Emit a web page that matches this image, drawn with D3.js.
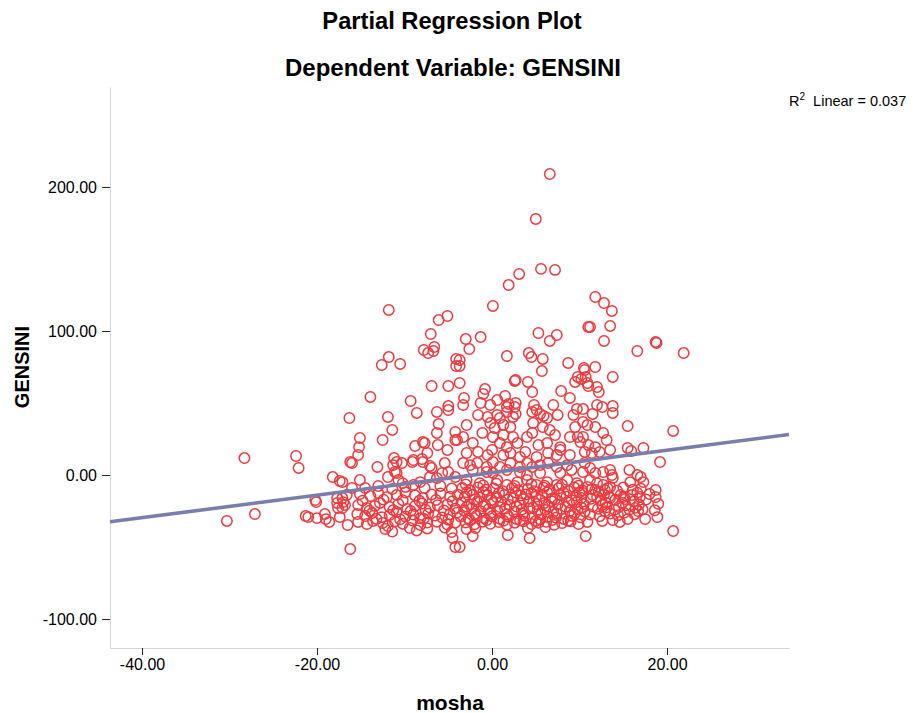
<!DOCTYPE html>
<html>
<head>
<meta charset="utf-8">
<script src="https://cdn.jsdelivr.net/npm/d3@7"></script>
<style>
  body { margin: 0; background: #ffffff; }
  svg { display: block; font-family: "Liberation Sans", Arial, sans-serif; }
</style>
</head>
<body>
<svg id="chart" width="920" height="713"></svg>
<script>
// Axis ticks
const xTicks = [-40, -20, 0, 20];
const yTicks = [-100, 0, 100, 200];

// Fitted line: [intercept, slope] and its R squared
const fitCoefficients = [1.6, 0.78];
const rSquared = 0.037;

// Residual pairs [mosha, GENSINI] — points above the main band
const upperPoints = [
  [6.6,209.0],[5.0,177.8],[5.6,143.1],[7.2,142.4],[3.1,139.6],[1.9,131.9],[11.8,123.6],[12.8,119.4],
  [13.7,113.9],[0.1,117.4],[-11.8,114.6],[11.0,102.8],[11.2,102.8],[13.5,103.5],[12.8,93.1],[5.3,98.6],
  [7.4,97.2],[6.6,93.1],[-3.0,94.4],[-1.3,95.8],[-2.6,87.5],[16.6,86.1],[18.7,92.4],[18.8,91.7],
  [21.9,84.7],[1.7,82.6],[4.2,84.7],[4.5,81.9],[5.8,80.6],[8.7,77.8],[5.7,72.2],[10.5,74.3],
  [10.6,72.9],[11.8,75.0],[-3.7,79.9],[-3.7,75.7],[13.8,68.1],[2.6,65.3],[2.7,66.0],[4.1,64.6],
  [9.8,68.1],[10.2,66.7],[10.7,68.1],[9.5,64.6],[10.9,63.9],[11.0,61.8],[-3.7,63.9],[12.0,61.1],
  [12.2,57.6],[7.9,58.3],[4.6,57.6],[-0.8,59.7],[-1.0,56.3],[8.9,53.5],[-3.2,53.5],[-3.3,48.6],
  [1.5,54.9],[0.6,52.1],[-1.3,50.0],[-0.2,48.6],[1.9,49.3],[2.7,50.0],[1.7,47.2],[2.6,47.2],
  [4.8,48.6],[7.0,48.6],[12.0,48.6],[12.6,47.2],[13.8,47.9],[9.7,45.8],[10.4,45.8],[5.1,45.1],
  [5.5,42.4],[5.9,41.0],[6.3,39.6],[7.5,41.7],[11.5,42.4],[13.8,43.1],[-1.6,41.7],[-0.5,40.3],
  [0.6,41.7],[0.9,39.6],[2.7,42.4],
  [-5.1,110.4],[-6.1,107.6],[-7.0,97.9],[-7.8,86.8],[-7.3,84.7],[-6.6,88.9],[-6.7,86.1],[-4.1,80.6],
  [-4.1,75.7],[-11.8,81.9],[-12.6,76.4],[-10.5,77.1],[-6.9,61.8],[-5.0,61.8],[-13.9,54.2],[-9.3,51.4],
  [-5.0,47.9],[-8.6,43.1],[-6.3,43.8],[-16.3,39.6],[-11.9,40.3],[-5.0,45.1]
];

// Points around the fitted line
const middlePoints = [
  [-6.1,35.4],[-11.4,31.3],[-15.1,25.7],[-12.5,24.3],[-15.2,19.4],[-15.3,13.9],[-16.2,9.0],[-16.0,8.3],
  [-8.8,20.1],[-7.9,22.9],[-7.7,22.2],[-6.3,29.2],[-6.2,20.8],[-7.4,15.3],[-5.1,17.4],[-4.2,29.9],
  [-4.2,24.3],[-4.0,24.3],[-11.2,11.8],[-10.9,9.0],[-10.3,8.3],[-11.3,6.9],[-11.1,2.1],[-10.9,1.4],
  [-9.1,9.0],[-9.0,10.4],[-8.0,11.1],[-7.9,9.0],[-13.1,5.6],[-7.1,6.3],[-6.9,4.9],[-5.4,8.3],
  [-5.7,1.4],[-5.0,2.1],[-6.3,-2.1],[-7.1,-1.4],[-17.1,-4.9],[-15.1,-3.5],[-11.9,-1.4],[-10.7,-3.5],
  [-10.2,-5.6],[-8.2,-4.9],[-9.0,-6.9],[-4.2,-1.4],
  [-28.3,11.8],[-22.4,13.2],[-22.1,4.9],[-18.2,-1.4],[-17.4,-4.2],
  [1.7,43.8],[2.4,40.3],[4.6,43.8],[9.3,41.7],
  [-2.9,34.7],[-0.2,36.1],[0.3,32.6],[1.3,34.7],[2.1,33.3],[4.7,36.1],[5.8,33.3],[6.6,31.3],[9.5,33.3],
  [-3.3,26.4],[-1.1,29.2],[0.1,26.4],[1.3,27.8],[2.4,26.4],[4.0,26.4],[4.6,29.2],[7.2,27.8],[8.9,26.4],[9.8,26.4],
  [-2.2,22.2],[0.9,22.2],[1.7,19.4],[2.9,22.2],[5.3,20.8],[6.3,22.2],[7.8,19.4],
  [-2.9,15.3],[-1.6,16.0],[-0.5,13.9],[0.0,17.4],[1.3,13.9],[2.1,15.3],[3.2,12.5],[3.8,16.0],[5.1,12.5],
  [6.4,15.3],[7.4,13.9],[7.8,17.4],[8.9,13.9],
  [-3.3,8.3],[-2.5,6.9],[-1.7,8.3],[-0.6,5.6],[0.1,9.0],[0.9,5.6],[2.1,8.3],[3.2,5.6],[4.0,8.3],[4.6,5.6],
  [5.5,6.9],[6.4,8.3],[7.4,5.6],[8.6,6.9],
  [-2.2,3.5],[-0.6,2.1],[0.1,1.4],[1.7,3.5],[3.2,2.1],[4.0,0.0],[5.5,1.4],[7.8,1.4],[9.1,3.5],
  [-2.9,-3.5],[-1.4,-5.6],[0.6,-3.5],[1.7,-6.9],[2.9,-4.9],[4.0,-3.5],[5.1,-6.9],[6.3,-4.9],[7.4,-6.9],
  [8.6,-3.5],[9.7,-5.6],
  [10.9,34.7],[11.8,33.3],[10.4,36.8],[15.5,34.0],[20.7,30.6],[12.7,29.2],[13.1,24.3],[10.4,26.4],
  [10.1,22.9],[11.0,20.8],[11.8,19.4],[12.3,16.0],[13.5,17.4],[10.6,16.0],[11.4,15.3],[15.5,18.8],
  [15.9,16.7],[17.3,18.8],[19.2,9.0],[10.6,8.3],[11.2,4.9],[10.4,2.1],[11.8,1.4],[12.7,2.1],[13.5,3.5],
  [13.7,0.0],[15.7,3.5],[16.6,0.0],[17.0,-1.4],[15.8,-4.9],[17.3,-4.9],[11.2,-3.5],[12.0,-5.6],
  [12.7,-6.9],[13.8,-2.1],
  [-3.0,-6.5],[-1.0,-7.2],[0.5,-6.0],[2.6,-7.6],[4.5,-6.3],[6.0,-7.4],[8.0,-6.8],[9.9,-7.5]
];

// Points in the dense band below the line and the low outliers
const bandPoints = [
  [-20.2,-17.4],[-17.7,-16.0],[-30.3,-31.9],[-27.1,-27.1],[-20.1,-18.8],[-21.3,-28.5],[-21.0,-29.2],
  [-20.0,-29.9],[-19.1,-27.1],[-19.0,-30.6],[-18.6,-32.6],[-17.7,-19.4],[-17.6,-22.9],[-17.4,-29.2],
  [-17.1,-16.0],[-17.0,-18.8],[-17.1,-22.9],[-16.2,-51.4],[-4.5,-43.8],[-4.2,-50.0],
  [-2.9,-37.5],[-1.9,-36.8],[-2.2,-42.4],[1.8,-41.7],[4.1,-36.8],[4.3,-43.8],[6.1,-36.1],[-3.7,-50.0],
  [10.9,-8.3],[11.8,-10.4],[12.9,-10.4],[13.5,-8.3],[18.7,-10.4],[18.7,-15.3],[10.4,-12.5],[11.5,-13.9],
  [15.0,-15.3],[16.0,-13.9],[16.9,-15.3],[14.9,-19.4],[14.5,-22.2],[13.5,-16.0],[12.6,-20.8],[12.0,-15.3],
  [16.7,-25.0],[18.9,-29.2],[17.5,-30.6],[15.5,-30.6],[14.6,-32.6],[13.8,-31.3],[12.6,-31.9],[10.9,-32.6],
  [20.7,-38.9],[10.7,-42.4],
  [-15.1,-13.2],[-13.9,-14.6],[-13.0,-12.5],[-12.0,-15.3],[-10.9,-13.9],[-9.9,-12.1],[-8.8,-14.2],
  [-7.9,-16.0],[-6.9,-13.5],[-5.9,-12.8],[-4.8,-15.0],[-3.9,-13.7],
  [-15.3,-20.8],[-14.3,-22.9],[-13.4,-21.5],[-12.8,-19.4],[-11.7,-22.2],[-10.7,-20.1],[-9.7,-23.6],
  [-8.8,-21.5],[-8.0,-19.8],[-7.1,-22.6],[-6.2,-21.0],[-5.1,-20.5],[-4.2,-23.3],
  [-15.4,-27.1],[-14.5,-28.5],[-13.7,-26.4],[-12.6,-29.2],[-11.7,-27.8],[-10.9,-25.7],[-9.9,-28.8],
  [-9.0,-27.4],[-8.2,-30.0],[-7.3,-26.8],[-6.5,-28.1],[-5.7,-29.5],[-4.8,-27.1],[-4.0,-26.1],
  [-15.3,-32.6],[-14.3,-34.0],[-13.6,-31.9],[-12.5,-33.3],[-11.9,-35.4],[-11.1,-32.2],[-10.2,-33.8],
  [-9.1,-31.6],[-8.2,-34.7],[-7.4,-33.0],[-6.3,-32.4],[-5.1,-34.4],[-4.2,-33.1],
  [-12.2,-37.5],[-11.4,-39.2],[-9.4,-36.8],[-8.6,-38.5],[-7.4,-37.1],[-5.4,-36.5],[-4.6,-39.6],
  [-16.6,-13.9],[-16.8,-20.8],[-16.5,-34.7],[-16.0,-9.0],
  [-14.5,-9.0],[-13.0,-7.6],[-11.4,-9.7],[-9.9,-8.3],[-7.7,-9.0],[-5.9,-7.6],[-4.6,-9.4],
  [-14.8,-17.8],[-12.4,-17.1],[-10.2,-17.5],[-8.3,-17.9],[-6.4,-17.3],[-4.5,-18.1],
  [-14.0,-24.8],[-11.3,-24.4],[-9.3,-25.0],[-7.6,-24.1],[-5.5,-24.6],
  [-13.2,-30.5],[-10.5,-30.8],[-7.8,-30.3],[-5.0,-31.0],
  [-3.4,-9.0],[-2.5,-10.8],[-1.6,-8.6],[-0.7,-10.2],[0.2,-9.4],[1.2,-11.1],[2.3,-8.9],[3.0,-10.5],
  [4.1,-9.6],[4.8,-11.3],[5.9,-8.8],[6.6,-10.1],[7.6,-9.2],[8.7,-11.0],[9.4,-8.7],[10.3,-10.6],
  [-2.9,-12.0],[-1.0,-11.8],[0.8,-12.4],[2.7,-12.2],[4.5,-12.6],[6.3,-12.0],[8.2,-12.5],[10.0,-12.1],
  [-3.1,-14.9],[-2.2,-13.6],[-1.4,-15.6],[-0.5,-14.1],[0.5,-15.3],[1.4,-13.8],[2.4,-15.9],[3.3,-14.2],
  [3.9,-13.5],[5.0,-15.1],[5.7,-14.4],[6.9,-16.2],[7.8,-13.9],[8.5,-15.0],[9.6,-14.3],[10.2,-16.0],
  [-2.0,-17.2],[-0.1,-17.5],[1.8,-17.0],[3.6,-16.8],[5.4,-17.3],[7.2,-16.9],[9.1,-17.4],
  [-3.5,-19.0],[-2.6,-20.3],[-1.7,-18.6],[-0.8,-20.6],[0.1,-19.2],[1.1,-18.5],[2.0,-20.8],[3.2,-19.6],
  [4.2,-18.2],[5.1,-20.1],[6.0,-19.4],[6.8,-18.1],[7.5,-20.5],[8.8,-19.2],[9.7,-18.7],[10.5,-20.2],
  [-2.9,-22.0],[-1.0,-21.7],[0.9,-22.3],[2.8,-21.9],[4.7,-22.5],[6.5,-21.8],[8.4,-22.1],[10.2,-22.6],
  [-3.2,-24.6],[-2.3,-23.1],[-1.3,-25.2],[-0.4,-23.7],[0.6,-24.9],[1.5,-23.3],[2.5,-25.4],[3.4,-24.0],
  [4.3,-23.2],[5.2,-25.0],[6.1,-24.2],[7.0,-25.7],[7.9,-23.5],[8.9,-24.8],[9.8,-23.8],[10.6,-25.3],
  [-2.0,-27.0],[-0.2,-26.6],[1.7,-27.3],[3.5,-26.9],[5.6,-27.4],[7.4,-26.7],[9.4,-27.1],
  [-3.6,-28.8],[-2.7,-30.1],[-1.8,-28.5],[-0.9,-29.9],[0.0,-28.6],[0.9,-30.4],[1.9,-29.0],[2.8,-30.6],
  [3.7,-28.3],[4.6,-29.6],[5.5,-30.8],[6.4,-28.9],[7.3,-29.7],[8.2,-30.5],[9.1,-28.4],[10.1,-29.4],
  [-2.5,-31.6],[-0.6,-31.3],[1.3,-31.8],[3.2,-31.5],[5.0,-31.9],[6.9,-31.2],[8.7,-31.7],
  [-3.0,-33.0],[-2.0,-34.2],[-1.1,-32.4],[-0.2,-33.9],[0.8,-32.7],[1.7,-34.5],[2.6,-33.1],[3.6,-32.2],
  [4.5,-34.0],[5.3,-33.2],[6.2,-32.5],[7.1,-34.6],[8.0,-33.4],[9.0,-32.1],[9.9,-34.1],
  [11.4,-9.8],[12.2,-11.5],[13.2,-9.1],[14.3,-10.9],[15.0,-8.7],[16.1,-10.2],[17.0,-9.5],
  [12.8,-13.5],[14.7,-13.8],[16.6,-12.2],
  [11.3,-16.5],[12.4,-17.8],[13.4,-15.0],[14.1,-17.2],[15.2,-16.7],[16.2,-18.3],[17.6,-17.0],[18.0,-13.2],
  [13.0,-19.2],[16.8,-20.5],
  [11.5,-21.9],[12.1,-23.5],[13.1,-22.4],[14.0,-24.0],[15.3,-21.1],[16.4,-22.8],[17.2,-23.9],
  [12.9,-25.2],[15.7,-24.0],
  [11.2,-27.5],[12.3,-28.6],[13.5,-26.8],[14.4,-27.9],[15.1,-26.3],[16.3,-27.2],
  [19.0,-20.0],[18.6,-24.5]
];

const allPoints = upperPoints.concat(middlePoints, bandPoints);

const svg = d3.select("#chart");
const plot = { left: 110, right: 789, top: 87, bottom: 648 };

const x = d3.scaleLinear().domain([-43.66, 33.94]).range([plot.left, plot.right]);
const y = d3.scaleLinear().domain([-120.1, 269.4]).range([plot.bottom, plot.top]);

// Titles
svg.append("text").attr("x", 452).attr("y", 29).attr("text-anchor", "middle")
  .style("font-size", "23.7px").style("font-weight", "bold").attr("fill", "#000")
  .text("Partial Regression Plot");
svg.append("text").attr("x", 453).attr("y", 76).attr("text-anchor", "middle")
  .style("font-size", "24px").style("font-weight", "bold").attr("fill", "#000")
  .text("Dependent Variable: GENSINI");

// Axes, with a plain hyphen for negative tick labels
const locale = d3.formatLocale({ decimal: ".", thousands: ",", grouping: [3], currency: ["", ""], minus: "-" });
const fmt = locale.format(".2f");
const yAxis = svg.append("g").attr("transform", `translate(${plot.left},0)`)
  .call(d3.axisLeft(y).tickValues(yTicks).tickFormat(fmt).tickSize(8).tickSizeOuter(0));
const xAxis = svg.append("g").attr("transform", `translate(0,${plot.bottom})`)
  .call(d3.axisBottom(x).tickValues(xTicks).tickFormat(fmt).tickSize(7).tickSizeOuter(0));

[yAxis, xAxis].forEach(g => {
  g.select(".domain").attr("stroke", "#d4d4d4").attr("stroke-width", 1);
  g.selectAll(".tick line").attr("stroke", "#222").attr("stroke-width", 1);
  g.selectAll(".tick text").attr("fill", "#000")
    .style("font-size", "16px").style("font-family", "'Liberation Sans', Arial, sans-serif");
});
yAxis.selectAll(".tick text").attr("x", -13).attr("dy", "0.35em");
xAxis.selectAll(".tick text").attr("y", 11);

// Axis titles
svg.append("text").attr("transform", `translate(29,367) rotate(-90)`).attr("text-anchor", "middle")
  .style("font-size", "20px").style("font-weight", "bold").text("GENSINI");
svg.append("text").attr("x", 450).attr("y", 710).attr("text-anchor", "middle")
  .style("font-size", "21px").style("font-weight", "bold").text("mosha");

// Points
svg.append("g").selectAll("circle").data(allPoints).join("circle")
  .attr("cx", d => x(d[0])).attr("cy", d => y(d[1])).attr("r", 5.2)
  .attr("fill", "none").attr("stroke", "#ee3a3f").attr("stroke-width", 1.5);

// Fit line over the full x range
const [b0, b1] = fitCoefficients;
const xs = x.domain();
svg.append("line")
  .attr("x1", x(xs[0])).attr("y1", y(b0 + b1 * xs[0]))
  .attr("x2", x(xs[1])).attr("y2", y(b0 + b1 * xs[1]))
  .attr("stroke", "#7b7dab").attr("stroke-width", 3.6);

// R squared note
const note = svg.append("text").attr("x", 789).attr("y", 106).style("font-size", "14.5px").attr("fill", "#000");
note.append("tspan").text("R");
note.append("tspan").attr("dy", -6).style("font-size", "10px").text("2");
note.append("tspan").attr("dy", 6).text("\u00a0 Linear = " + rSquared.toFixed(3));
</script>
</body>
</html>
